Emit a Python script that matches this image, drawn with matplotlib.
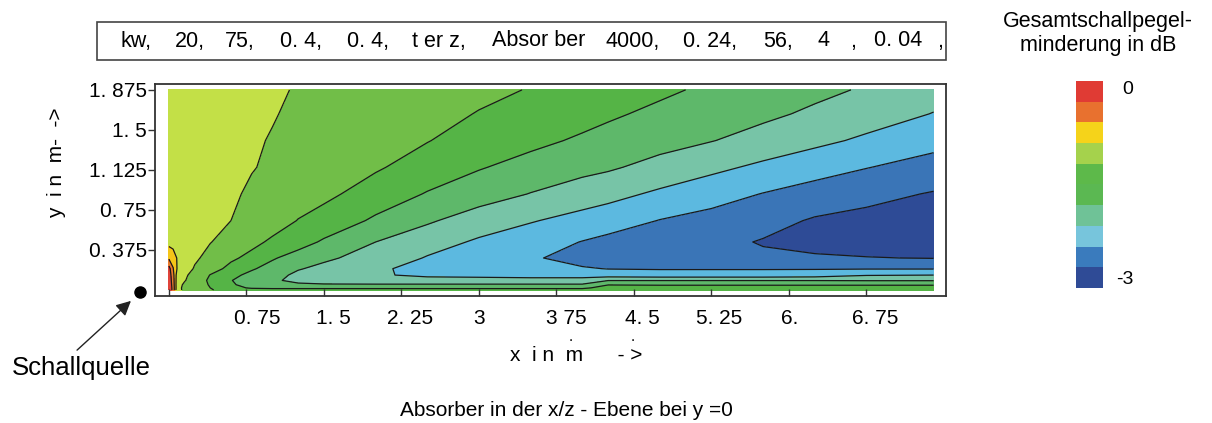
import numpy as np
import matplotlib
matplotlib.use('Agg')
import matplotlib.pyplot as plt
import matplotlib.transforms as mtransforms
from matplotlib.colors import ListedColormap
from matplotlib.patches import Rectangle
from matplotlib.lines import Line2D

plt.rcParams['font.family'] = ['Liberation Sans', 'DejaVu Sans']

# grid of the computed field (x along the absorber, y height), values in dB
x_m = [0, 0.04, 0.08, 0.15, 0.25, 0.4, 0.6, 0.8, 1.0, 1.25, 1.5, 2.0, 2.5,
       3.0, 3.5, 4.0, 4.25, 4.75, 5.25, 5.75, 6.25, 6.75, 7.4]
y_m = [0, 0.02, 0.05, 0.09, 0.14, 0.2, 0.3, 0.45, 0.65, 0.9, 1.15, 1.4, 1.65, 1.875]

pegel_db = [
    [-0.05, -0.40, -1.12, -1.25, -1.36, -1.48, -1.60, -1.68, -1.70, -1.70, -1.70, -1.70, -1.70, -1.70, -1.70, -1.70, -1.62, -1.62, -1.62, -1.62, -1.62, -1.62, -1.62],
    [-0.06, -0.40, -1.10, -1.27, -1.38, -1.50, -1.72, -1.83, -1.85, -1.85, -1.85, -1.85, -1.85, -1.85, -1.85, -1.85, -1.70, -1.70, -1.70, -1.70, -1.70, -1.70, -1.70],
    [-0.08, -0.42, -1.10, -1.24, -1.38, -1.52, -1.76, -1.92, -2.00, -2.05, -2.07, -2.07, -2.07, -2.07, -2.07, -2.07, -1.81, -1.82, -1.82, -1.82, -1.82, -1.82, -1.82],
    [-0.10, -0.45, -1.08, -1.18, -1.34, -1.55, -1.79, -1.93, -2.05, -2.18, -2.25, -2.30, -2.30, -2.30, -2.30, -2.30, -2.11, -2.11, -2.11, -2.11, -2.11, -2.12, -2.12],
    [-0.13, -0.48, -1.05, -1.15, -1.30, -1.51, -1.73, -1.87, -2.00, -2.16, -2.25, -2.37, -2.45, -2.47, -2.50, -2.50, -2.55, -2.58, -2.58, -2.58, -2.55, -2.42, -2.40],
    [-0.18, -0.58, -0.92, -1.05, -1.23, -1.38, -1.58, -1.77, -1.90, -2.08, -2.17, -2.35, -2.50, -2.55, -2.60, -2.67, -2.71, -2.72, -2.72, -2.72, -2.72, -2.72, -2.72],
    [-0.65, -0.75, -0.92, -1.00, -1.15, -1.30, -1.45, -1.58, -1.77, -1.92, -2.05, -2.22, -2.42, -2.55, -2.66, -2.82, -2.86, -2.90, -2.92, -2.95, -2.97, -2.99, -3.01],
    [-1.00, -1.02, -1.05, -1.10, -1.15, -1.19, -1.32, -1.42, -1.55, -1.68, -1.84, -2.10, -2.28, -2.44, -2.56, -2.71, -2.78, -2.86, -2.92, -3.02, -3.08, -3.12, -3.15],
    [-1.05, -1.06, -1.08, -1.10, -1.12, -1.15, -1.20, -1.28, -1.36, -1.51, -1.60, -1.85, -2.06, -2.25, -2.38, -2.50, -2.56, -2.71, -2.80, -2.90, -3.03, -3.08, -3.12],
    [-1.06, -1.07, -1.08, -1.10, -1.12, -1.14, -1.17, -1.23, -1.29, -1.36, -1.44, -1.62, -1.82, -1.96, -2.11, -2.25, -2.31, -2.45, -2.58, -2.71, -2.82, -2.92, -3.02],
    [-1.07, -1.08, -1.09, -1.10, -1.12, -1.14, -1.16, -1.19, -1.23, -1.28, -1.34, -1.47, -1.62, -1.78, -1.90, -2.01, -2.06, -2.20, -2.33, -2.46, -2.58, -2.69, -2.82],
    [-1.08, -1.09, -1.10, -1.11, -1.12, -1.14, -1.16, -1.18, -1.21, -1.26, -1.31, -1.40, -1.49, -1.62, -1.73, -1.84, -1.89, -1.99, -2.09, -2.21, -2.33, -2.45, -2.60],
    [-1.09, -1.10, -1.10, -1.11, -1.12, -1.13, -1.15, -1.17, -1.19, -1.23, -1.27, -1.35, -1.43, -1.51, -1.60, -1.70, -1.76, -1.86, -1.95, -2.04, -2.15, -2.26, -2.41],
    [-1.10, -1.10, -1.11, -1.11, -1.12, -1.13, -1.15, -1.16, -1.18, -1.21, -1.25, -1.32, -1.38, -1.45, -1.51, -1.60, -1.65, -1.75, -1.85, -1.94, -2.03, -2.13, -2.28],
]

levels = [-3.6, -3.0, -2.7, -2.4, -2.1, -1.8, -1.5, -1.2, -0.9, -0.6, -0.3, 0.3]
band_colors = ['#2e4b96', '#3a75b7', '#5cb9e0', '#77c4a7', '#5eb86a', '#55b446',
               '#71be48', '#c3e047', '#f5c518', '#ea7a2c', '#e0433a']
# legend strip, top to bottom
cbar_colors = ['#e03b34', '#e8712f', '#f5d31a', '#a5d24c', '#5db94a', '#5bb852',
               '#6fc297', '#77c5dc', '#3a7bbd', '#2f4b96']

xtick_pos = [0, 0.75, 1.5, 2.25, 3.0, 3.75, 4.5, 5.25, 6.0, 6.75]
xtick_labels = ['', '0. 75', '1. 5', '2. 25', '3', '3 75', '4. 5', '5. 25', '6.', '6. 75']
xtick_shift = [0, 11, 9, 9, 0, 10, 8, 8, 1, 9]
ytick_pos = [0.375, 0.75, 1.125, 1.5, 1.875]
ytick_labels = ['0. 375', '0. 75', '1. 125', '1. 5', '1. 875']

header_tokens = [('kw,', 120), ('20,', 175), ('75,', 225), ('0. 4,', 280), ('0. 4,', 347),
                 ('t er z,', 412), ('Absor ber', 492), ('4000,', 606), ('0. 24,', 683),
                 ('56,', 763), ('4', 817), (',', 850), ('0. 04', 874), (',', 937)]

W, H = 1212, 423
fig = plt.figure(figsize=(W / 100, H / 100), dpi=100)


def fx(px):
    return px / W


def fy(py):
    return 1 - py / H


ax = fig.add_axes([fx(155), fy(296), fx(946) - fx(155), fy(84) - fy(296)])
X, Y = np.meshgrid(x_m, y_m)
Z = np.array(pegel_db)
ax.contourf(X, Y, Z, levels=levels, colors=band_colors)
ax.contour(X, Y, Z, levels=levels[1:-1], colors='#1a1a1a', linewidths=0.9,
           linestyles='solid')
ax.set_xlim(-0.135, 7.52)
ax.set_ylim(-0.056, 1.93)

ax.set_xticks(xtick_pos)
ax.set_xticklabels(xtick_labels, fontsize=15)
ax.set_yticks(ytick_pos)
ax.set_yticklabels(ytick_labels, fontsize=15)
ax.tick_params(axis='x', direction='in', length=5, width=1, pad=9, color='#333333')
ax.tick_params(axis='y', direction='out', length=5, width=1, pad=1, color='#333333')
for sp in ax.spines.values():
    sp.set_color('#333333')
    sp.set_linewidth(1.3)

for lbl, off in zip(ax.get_xticklabels(), xtick_shift):
    lbl.set_transform(lbl.get_transform() +
                      mtransforms.ScaledTranslation(off / 100, 0, fig.dpi_scale_trans))

# axis titles
fig.text(fx(510), fy(355), 'x  i n  m      - >', fontsize=15, va='center', ha='left')
fig.text(fx(57), fy(163), 'y  i n  m-  ->', fontsize=15, rotation=90, va='center', ha='center')
fig.text(fx(571), fy(337), '.', fontsize=11, ha='center', va='center')
fig.text(fx(633), fy(337), '.', fontsize=11, ha='center', va='center')

# header box
fig.add_artist(Rectangle((fx(97), fy(60)), fx(946) - fx(97), fy(22) - fy(60),
                         transform=fig.transFigure, fill=False, edgecolor='#444444', lw=1.2))
for tok, px in header_tokens:
    fig.text(fx(px), fy(41), tok, fontsize=15.5, va='center', ha='left')

# legend strip
cax = fig.add_axes([fx(1076), fy(288), fx(1103) - fx(1076), fy(81) - fy(288)])
cax.imshow(np.arange(len(cbar_colors)).reshape(-1, 1), cmap=ListedColormap(cbar_colors),
           aspect='auto', interpolation='nearest')
cax.axis('off')
fig.text(fx(1122), fy(90), '0', fontsize=14, va='center', ha='left')
fig.text(fx(1116), fy(279), '-3', fontsize=14, va='center', ha='left')
fig.text(fx(1098), fy(22), 'Gesamtschallpegel-', fontsize=15.5, ha='center', va='center')
fig.text(fx(1098), fy(46), 'minderung in dB', fontsize=15.5, ha='center', va='center')

# source marker
fig.add_artist(Line2D([fx(140)], [fy(292)], marker='o', markersize=8, color='black',
                      transform=fig.transFigure))
fig.text(fx(12), fy(368), 'Schallquelle', fontsize=18.5, va='center', ha='left')
ax.annotate('', xy=(133, H - 299), xycoords='figure pixels',
            xytext=(75, H - 352), textcoords='figure pixels',
            arrowprops=dict(arrowstyle='-|>', color='#222222', lw=1, mutation_scale=22))

fig.text(fx(566), fy(410), 'Absorber in der x/z - Ebene bei y =0', fontsize=15,
         ha='center', va='center')

fig.savefig('out.png', dpi=100)
